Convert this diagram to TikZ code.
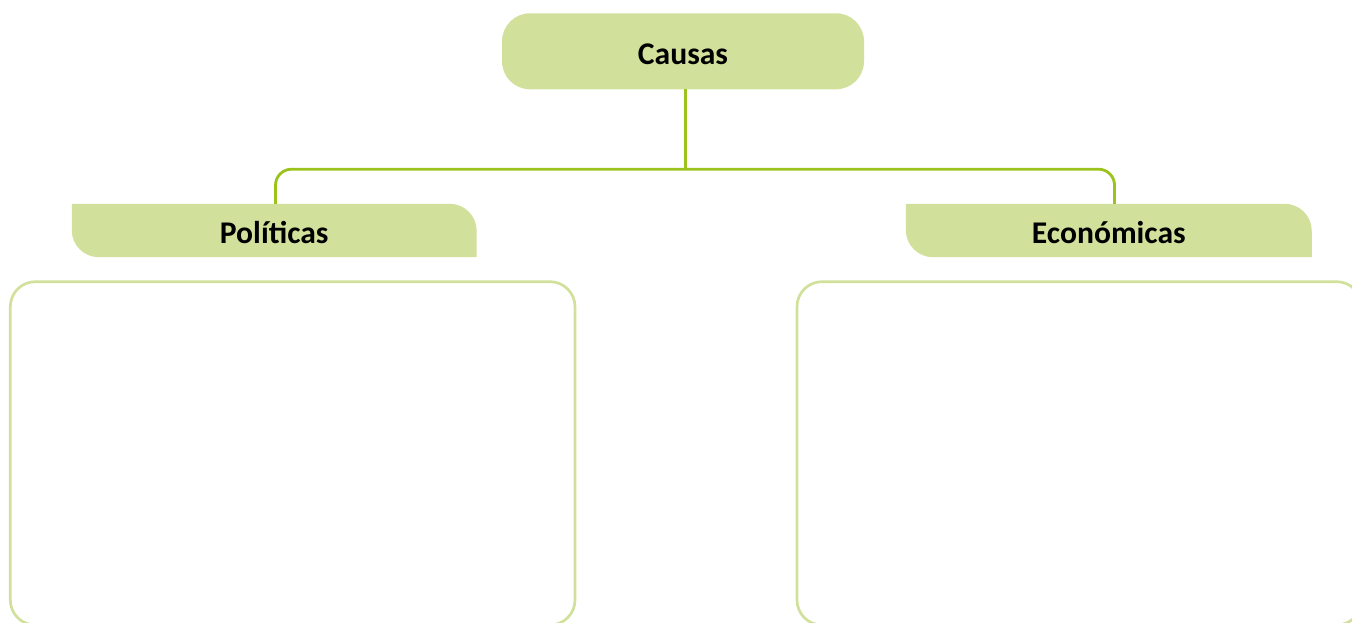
\documentclass[tikz,border=0pt]{standalone}
\usepackage{fontspec}
\setmainfont{Carlito}
\usetikzlibrary{calc}
\definecolor{boxfill}{HTML}{D1E19C}
\definecolor{connline}{HTML}{9BC31C}
\definecolor{bigline}{HTML}{D1E19C}
\tikzset{
  lbl/.style={font=\fontsize{31.6}{38}\selectfont\bfseries, text height=25.7pt, text depth=0pt, inner sep=0pt},
  conn/.style={draw=connline, line width=2.8pt, rounded corners=16pt},
  bigbox/.style={draw=bigline, line width=2.7pt, rounded corners=25pt, inner sep=0pt},
}
\begin{document}
\begin{tikzpicture}[x=1pt,y=1pt]
\useasboundingbox (0,0) rectangle (1352,623);
\clip (0,0) rectangle (1352,623);
% top node
\node[lbl, fill=boxfill, rounded corners=28pt, minimum width=362pt, minimum height=76pt] (causas) at (683,571.7) {Causas};
% category header nodes (shape filled separately)
\node[lbl, minimum width=404.5pt, minimum height=53pt] (pol) at (274.2,392.5) {};
\node[lbl, minimum width=405.5pt, minimum height=53pt] (econ) at (1108.8,392.5) {};
\foreach \n in {pol,econ}{
  \fill[boxfill] (\n.north west) -- ($(\n.north east)+(-27,0)$) arc[start angle=90, end angle=0, radius=27pt]
    -- (\n.south east) -- ($(\n.south west)+(27,0)$) arc[start angle=270, end angle=180, radius=27pt] -- cycle;
}
\node[lbl] at (pol) {Políticas};
\node[lbl] at (econ) {Económicas};
% content boxes
\node[bigbox, minimum width=564.7pt, minimum height=343.3pt] (polbox) at (292.65,169.65) {};
\node[bigbox, minimum width=564.7pt, minimum height=343.3pt] (econbox) at (1079.35,169.65) {};
% connectors
\coordinate (hub) at ($(causas.south)+(2.5,0)$);
\coordinate (bar) at ($(hub)+(0,-79.7)$);
\draw[conn] (hub) -- (bar);
\draw[conn] ($(pol.north)+(1.3,0)$) |- (bar) -| ($(econ.north)+(5.7,0)$);
\end{tikzpicture}
\end{document}
